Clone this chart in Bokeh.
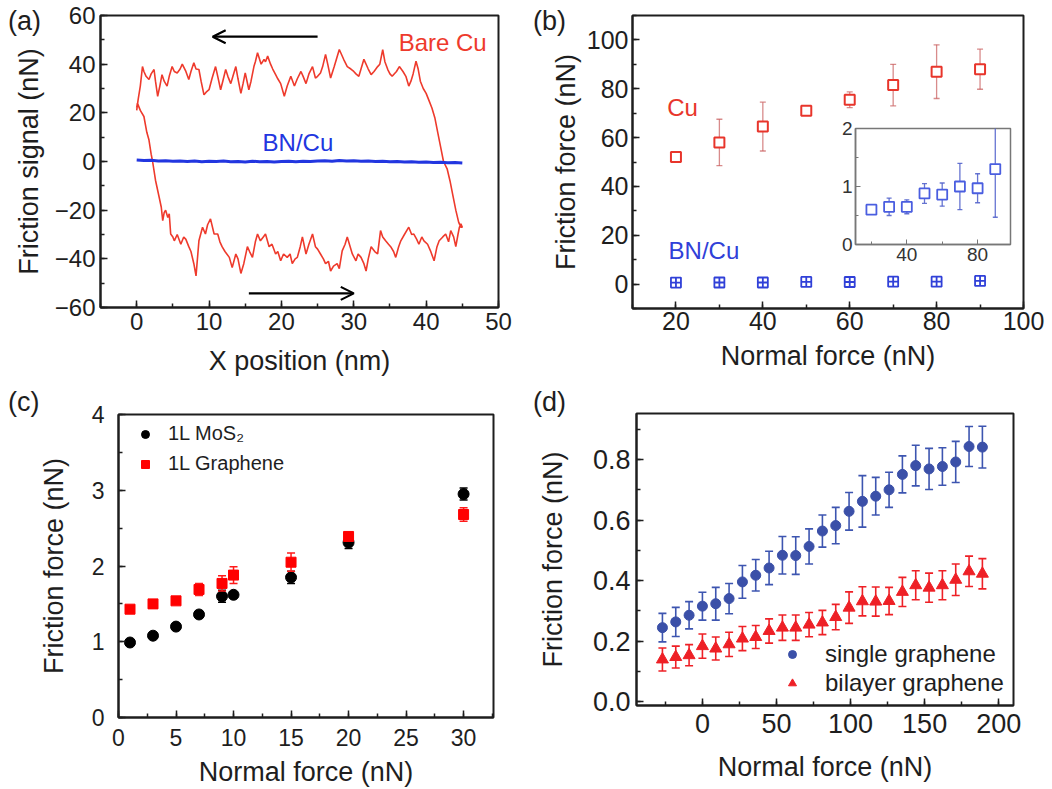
import numpy as np
from bokeh.plotting import figure
from bokeh.models import (Range1d, SingleIntervalTicker, Label, Arrow, OpenHead,
                          Legend, LegendItem, PrintfTickFormatter, Div)
from bokeh.embed import file_html
from bokeh.resources import INLINE

FONT = "Liberation Sans"

# ---------------- (a) friction loop ----------------
trace_pts = [  # forward scan (lower branch), x in nm, signal in nN
    (0.0, 22), (0.1, 24), (0.5, 21), (1.0, 18.5), (1.4, 12), (1.7, 8.8), (2.0, 3), (2.2, 0),
    (2.6, -7.7), (3.1, -14.6), (3.4, -18.8), (3.6, -24.3), (3.8, -21), (4.0, -20), (4.3, -23),
    (4.5, -21.5), (4.7, -29.8), (5.0, -31), (5.2, -32.6), (5.6, -30), (6.1, -34), (6.5, -31),
    (6.8, -32), (7.2, -35), (7.5, -37), (7.9, -42), (8.2, -47), (8.6, -32.6), (9.1, -27),
    (9.5, -29.8), (9.8, -26), (10.2, -23.6), (10.7, -29.8), (11.2, -29.8), (11.5, -33),
    (11.8, -35), (12.2, -37), (12.8, -39.4), (13.2, -43.6), (13.7, -38), (14.0, -40),
    (14.4, -46), (14.8, -42), (15.3, -35), (15.6, -37), (16.0, -39.4), (16.4, -33),
    (16.7, -29.8), (17.1, -32.6), (17.5, -31), (17.8, -29.8), (18.3, -35), (18.7, -34),
    (19.2, -38), (19.5, -37), (19.9, -40.8), (20.3, -38), (20.8, -39.4), (21.2, -38),
    (21.5, -42), (21.9, -40), (22.2, -39.4), (22.6, -35), (22.9, -31), (23.4, -38),
    (23.8, -34), (24.3, -29.8), (24.7, -35), (25.0, -36), (25.4, -38), (25.8, -40),
    (26.1, -42), (26.5, -41), (26.8, -45), (27.2, -43), (27.7, -42), (28.0, -44),
    (28.4, -36.7), (28.8, -34), (29.1, -31), (29.5, -35), (29.8, -38), (30.3, -40.8),
    (30.6, -38), (31.0, -39.4), (31.4, -42), (31.7, -45), (32.0, -40), (32.4, -35),
    (32.9, -37), (33.3, -38), (33.7, -28.4), (34.0, -31), (34.4, -32.6), (34.8, -34),
    (35.1, -35), (35.5, -37), (35.8, -39.4), (36.2, -35), (36.5, -32.6), (37.0, -30),
    (37.6, -27), (38.0, -30), (38.3, -29.8), (38.7, -32), (39.0, -34), (39.4, -31),
    (39.7, -32.6), (40.2, -34), (40.6, -36.7), (41.1, -40.8), (41.5, -35), (41.8, -32.6),
    (42.3, -31), (42.7, -29.8), (43.1, -33), (43.4, -28.4), (43.8, -31), (44.1, -35),
    (44.4, -30), (44.6, -27), (44.8, -25.6), (45.0, -27),
]
retrace_pts = [  # backward scan (upper branch)
    (44.8, -27), (44.5, -25), (44.1, -20), (43.7, -14), (43.3, -8), (42.9, -3), (42.4, 0),
    (42.0, 6), (41.6, 12), (41.2, 18), (40.8, 22), (40.4, 25), (40.0, 28), (39.6, 30),
    (39.2, 33), (38.9, 38), (38.6, 41.2), (38.2, 36), (37.9, 33), (37.6, 31), (37.2, 35),
    (36.8, 37), (36.3, 39), (35.9, 37), (35.3, 35), (35.0, 36), (34.7, 37.8), (34.3, 41),
    (34.0, 46), (33.6, 40), (33.3, 39), (32.8, 37), (32.4, 35.7), (32.0, 38), (31.4, 42),
    (31.0, 38), (30.7, 35), (30.3, 36), (30.0, 37), (29.6, 38), (29.1, 39), (28.6, 42),
    (28.2, 44.7), (28.0, 46), (27.6, 42), (27.3, 39), (26.8, 34.3), (26.4, 40), (26.1, 44),
    (25.7, 39), (25.4, 36.4), (25.0, 35), (24.7, 34.3), (24.3, 39), (23.8, 36), (23.4, 32),
    (23.0, 35), (22.7, 37), (22.2, 34), (21.8, 31), (21.3, 35), (20.8, 31), (20.4, 26.8),
    (19.9, 32), (19.5, 34), (19.2, 35.7), (18.8, 38), (18.5, 40), (18.1, 43.3), (17.8, 41),
    (17.6, 42), (17.2, 40), (16.7, 44.7), (16.4, 41), (16.2, 39), (15.8, 33), (15.5, 29.5),
    (15.0, 36.4), (14.7, 32), (14.4, 28), (14.0, 34), (13.7, 39), (13.3, 35), (13.0, 32),
    (12.6, 35), (12.3, 37.8), (11.9, 33), (11.6, 29.5), (11.2, 35), (10.9, 39), (10.4, 34),
    (10.0, 29.5), (9.6, 28.5), (9.3, 27.4), (8.9, 33), (8.6, 37.8), (8.2, 38), (7.9, 40.6),
    (7.5, 37), (7.2, 33.7), (6.8, 37), (6.3, 40), (6.0, 38), (5.6, 36.4), (5.2, 37),
    (4.9, 39), (4.5, 35), (4.2, 31), (3.8, 33), (3.5, 35.7), (3.2, 31), (2.9, 26.8),
    (2.6, 33), (2.4, 37.8), (2.0, 36), (1.7, 33.7), (1.3, 35), (1.0, 37), (0.8, 39),
    (0.5, 31), (0.2, 25.4), (0.0, 21),
]
bn_pts = [
    (0, 0.6), (1, 0.4), (2, 0.5), (3, 0.2), (4, 0.3), (5, 0.1), (6, 0.2), (7, 0.0), (8, 0.2),
    (9, -0.1), (10, 0.1), (11, 0.0), (12, 0.2), (13, -0.1), (14, 0.0), (15, -0.2), (16, 0.1),
    (17, -0.1), (18, 0.0), (19, -0.2), (20, 0.0), (21, 0.1), (22, -0.1), (23, 0.1), (24, 0.0),
    (25, 0.2), (26, 0.3), (27, 0.1), (28, 0.4), (29, 0.2), (30, 0.3), (31, 0.1), (32, 0.2),
    (33, 0.0), (34, 0.1), (35, -0.1), (36, 0.0), (37, -0.2), (38, -0.1), (39, -0.3),
    (40, -0.2), (41, -0.4), (42, -0.3), (43, -0.5), (44, -0.4), (45, -0.6),
]

# ---------------- (b) ----------------
b_force = [20, 30, 40, 50, 60, 70, 80, 90]
b_cu = [52, 58, 64.5, 71, 75.5, 81.5, 87, 88]
b_cu_err = [1.5, 9.5, 10, 1.5, 3.2, 8.5, 11, 8.2]
b_bn = [0.6, 0.65, 0.65, 0.88, 0.86, 1.0, 0.97, 1.3]
b_bn_err = [0.05, 0.15, 0.12, 0.17, 0.2, 0.4, 0.25, 0.83]

# ---------------- (c) ----------------
c_force = [1, 3, 5, 7, 9, 10, 15, 20, 30]
c_mos2 = [0.99, 1.08, 1.20, 1.36, 1.60, 1.62, 1.85, 2.31, 2.95]
c_mos2_err = [0.03, 0.03, 0.04, 0.05, 0.08, 0.04, 0.08, 0.08, 0.08]
c_gr = [1.43, 1.50, 1.54, 1.69, 1.77, 1.88, 2.05, 2.39, 2.68]
c_gr_err = [0.04, 0.03, 0.04, 0.08, 0.10, 0.11, 0.12, 0.05, 0.09]

# ---------------- (d) ----------------
d_force = [-27, -18, -9, 0, 9, 18, 27, 36, 45, 54, 63, 72, 81, 90, 99, 108, 117, 126,
           135, 144, 153, 162, 171, 180, 189]
d_single = [0.245, 0.264, 0.286, 0.316, 0.324, 0.341, 0.396, 0.418, 0.442, 0.484, 0.483,
            0.513, 0.564, 0.582, 0.629, 0.662, 0.679, 0.700, 0.751, 0.780, 0.769, 0.777,
            0.792, 0.843, 0.841]
d_single_err = [0.047, 0.048, 0.045, 0.046, 0.054, 0.050, 0.054, 0.052, 0.055, 0.062,
                0.062, 0.058, 0.053, 0.060, 0.062, 0.085, 0.062, 0.058, 0.061, 0.067,
                0.068, 0.062, 0.068, 0.066, 0.069]
d_bilayer = [0.140, 0.148, 0.154, 0.184, 0.176, 0.190, 0.209, 0.214, 0.234, 0.245, 0.245,
             0.255, 0.262, 0.280, 0.311, 0.332, 0.331, 0.333, 0.363, 0.385, 0.377, 0.385,
             0.403, 0.431, 0.423]
d_bilayer_err = [0.038, 0.036, 0.035, 0.040, 0.038, 0.040, 0.040, 0.038, 0.040, 0.042,
                 0.042, 0.040, 0.040, 0.042, 0.052, 0.048, 0.048, 0.045, 0.048, 0.048,
                 0.048, 0.048, 0.052, 0.050, 0.050]

INK = "#1e1e1e"


def make_fig(left, top, w, h, xr, yr, lft, rgt, tp, bot):
    p = figure(width=w, height=h, x_range=Range1d(*xr), y_range=Range1d(*yr),
               output_backend="svg", toolbar_location=None,
               min_border_left=lft, min_border_right=rgt,
               min_border_top=tp, min_border_bottom=bot,
               styles={"position": "absolute", "left": f"{left}px", "top": f"{top}px"})
    p.grid.visible = False
    p.outline_line_color = INK
    p.outline_line_width = 2
    p.outline_line_alpha = 1
    p.background_fill_color = "white"
    p.border_fill_color = "white"
    for ax in (p.xaxis[0], p.yaxis[0]):
        ax.axis_line_color = INK
        ax.axis_line_width = 2
        ax.major_tick_in = 7
        ax.major_tick_out = 0
        ax.minor_tick_in = 4
        ax.minor_tick_out = 0
        ax.major_tick_line_color = INK
        ax.minor_tick_line_color = INK
        ax.major_tick_line_width = 1.5
        ax.minor_tick_line_width = 1.5
        ax.major_label_text_font = FONT
        ax.major_label_text_color = INK
        ax.axis_label_text_font = FONT
        ax.axis_label_text_font_style = "normal"
        ax.axis_label_text_color = INK
        ax.axis_label_text_font_size = "27px"
    return p


def err_bars(p, x, y, e, color, width=1.5, cap=8, alpha=1.0):
    x = np.asarray(x, float)
    y = np.asarray(y, float)
    e = np.asarray(e, float)
    p.segment(x, y - e, x, y + e, line_color=color, line_width=width, line_alpha=alpha)
    p.scatter(np.concatenate([x, x]), np.concatenate([y - e, y + e]), marker="dash",
              size=cap, line_color=color, line_width=width, line_alpha=alpha)


def panel_letter(txt, left, top):
    return Div(text=f"<span style=\"font-family:'{FONT}';font-size:27px;line-height:27px;"
                    f"color:{INK}\">{txt}</span>",
               width=44, height=30,
               styles={"position": "absolute", "left": f"{left}px", "top": f"{top}px",
                       "font-family": FONT, "font-size": "27px", "line-height": "27px",
                       "color": INK, "margin": "0px", "padding": "0px"})


def note(p, x, y, txt, color):
    p.add_layout(Label(x=x, y=y, text=txt, text_font=FONT, text_font_size="24px",
                       text_color=color, text_baseline="middle"))


# ---------------- panel (a) ----------------
pa = make_fig(0, 0, 520, 390, (-5, 50), (-60, 60), 100, 22, 15, 83)
pa.xaxis.ticker = SingleIntervalTicker(interval=10, num_minor_ticks=2)
pa.yaxis.ticker = SingleIntervalTicker(interval=20, num_minor_ticks=2)
for ax in (pa.xaxis[0], pa.yaxis[0]):
    ax.major_label_text_font_size = "24px"
pa.xaxis.axis_label = "X position (nm)"
pa.yaxis.axis_label = "Friction signal (nN)"
pa.yaxis.major_label_standoff = 5
pa.xaxis.major_label_standoff = 5
pa.yaxis.axis_label_standoff = 8
pa.xaxis.axis_label_standoff = 13

loop = trace_pts + retrace_pts
pa.line([q[0] for q in loop], [q[1] for q in loop], line_color="#ee3a2c", line_width=1.6)
pa.line([q[0] for q in bn_pts], [q[1] for q in bn_pts], line_color="#2236e0", line_width=3)
pa.add_layout(Arrow(end=OpenHead(size=13, line_width=2.2, line_color="black"),
                    x_start=25, y_start=51.3, x_end=10.5, y_end=51.3,
                    line_width=2.2, line_color="black"))
pa.add_layout(Arrow(end=OpenHead(size=13, line_width=2.2, line_color="black"),
                    x_start=15.5, y_start=-54.2, x_end=30, y_end=-54.2,
                    line_width=2.2, line_color="black"))
note(pa, 36.2, 48.7, "Bare Cu", "#ee3a2c")
note(pa, 17.4, 7.7, "BN/Cu", "#2236e0")

# ---------------- panel (b) ----------------
pb = make_fig(520, 0, 532, 390, (10, 100), (-10, 110), 112, 29, 15, 82)
pb.xaxis.ticker = SingleIntervalTicker(interval=20, num_minor_ticks=2)
pb.yaxis.ticker = SingleIntervalTicker(interval=20, num_minor_ticks=2)
for ax in (pb.xaxis[0], pb.yaxis[0]):
    ax.major_label_text_font_size = "25px"
pb.xaxis.axis_label = "Normal force (nN)"
pb.yaxis.axis_label = "Friction force (nN)"
pb.yaxis.major_label_standoff = 4
pb.xaxis.major_label_standoff = 3
pb.yaxis.axis_label_standoff = 3
pb.xaxis.axis_label_standoff = 8

err_bars(pb, b_force, b_cu, b_cu_err, "#c85a5a", width=1.3, cap=6, alpha=0.7)
pb.scatter(b_force, b_cu, marker="square", size=10, line_color="#e8352b", line_width=2,
           fill_color="white")
pb.scatter(b_force, b_bn, marker="square_cross", size=10, line_color="#3040d8",
           line_width=1.8, fill_color="white")
note(pb, 18.0, 72.5, "Cu", "#e8352b")
note(pb, 18.3, 13.8, "BN/Cu", "#3040d8")

# inset of (b)
ins = figure(width=193, height=156, x_range=Range1d(11, 98.6), y_range=Range1d(0, 2),
             output_backend="svg", toolbar_location=None,
             min_border_left=30, min_border_right=8, min_border_top=12, min_border_bottom=28,
             styles={"position": "absolute", "left": "825px", "top": "116px"})
ins.grid.visible = False
ins.border_fill_alpha = 0
ins.background_fill_color = "white"
ins.outline_line_color = "#777777"
ins.outline_line_width = 1.5
ins.outline_line_alpha = 1
ins.xaxis.ticker = SingleIntervalTicker(interval=40, num_minor_ticks=2)
ins.yaxis.ticker = SingleIntervalTicker(interval=1, num_minor_ticks=2)
for ax in (ins.xaxis[0], ins.yaxis[0]):
    ax.axis_line_color = "#777777"
    ax.axis_line_width = 1.5
    ax.major_tick_in = 5
    ax.major_tick_out = 0
    ax.minor_tick_in = 3
    ax.minor_tick_out = 0
    ax.major_tick_line_color = "#777777"
    ax.minor_tick_line_color = "#777777"
    ax.major_label_text_font = FONT
    ax.major_label_text_font_size = "19px"
    ax.major_label_text_color = "#333333"
    ax.major_label_standoff = 3
err_bars(ins, b_force, b_bn, b_bn_err, "#5565cc", width=1.3, cap=5, alpha=0.9)
ins.scatter(b_force, b_bn, marker="square", size=10, line_color="#4a5ee0", line_width=1.8,
            fill_color="white")

# ---------------- panel (c) ----------------
pc = make_fig(0, 390, 520, 399, (0, 32.6), (0, 4), 118, 27, 24, 72)
pc.xaxis.ticker = SingleIntervalTicker(interval=5, num_minor_ticks=2)
pc.yaxis.ticker = SingleIntervalTicker(interval=1, num_minor_ticks=2)
for ax in (pc.xaxis[0], pc.yaxis[0]):
    ax.major_label_text_font_size = "23px"
pc.xaxis.axis_label = "Normal force (nN)"
pc.yaxis.axis_label = "Friction force (nN)"
pc.yaxis.major_label_standoff = 14
pc.xaxis.major_label_standoff = 11
pc.yaxis.axis_label_standoff = 20
pc.xaxis.axis_label_standoff = 8

err_bars(pc, c_force, c_mos2, c_mos2_err, "black", width=1.5, cap=8)
r_mos = pc.scatter(c_force, c_mos2, marker="circle", size=11, fill_color="black",
                   line_color="black")
err_bars(pc, c_force, c_gr, c_gr_err, "#ff1a1a", width=1.5, cap=8)
r_gr = pc.scatter(c_force, c_gr, marker="square", size=10, fill_color="#ff0000",
                  line_color="#ff0000")
leg_c = Legend(items=[LegendItem(label="1L MoS\u2082", renderers=[r_mos]),
                      LegendItem(label="1L Graphene", renderers=[r_gr])],
               location=(17, 242), orientation="vertical", border_line_alpha=0,
               background_fill_alpha=0, padding=0, margin=0, spacing=7,
               glyph_width=20, glyph_height=20, label_standoff=13,
               label_text_font=FONT, label_text_font_size="20px", label_text_color=INK)
pc.add_layout(leg_c)

# ---------------- panel (d) ----------------
pd_ = make_fig(520, 390, 532, 399, (-44.5, 210), (-0.012, 0.952), 116, 39, 23, 84)
pd_.xaxis.ticker = SingleIntervalTicker(interval=50, num_minor_ticks=2)
pd_.yaxis.ticker = SingleIntervalTicker(interval=0.2, num_minor_ticks=2)
pd_.yaxis.formatter = PrintfTickFormatter(format="%.1f")
for ax in (pd_.xaxis[0], pd_.yaxis[0]):
    ax.major_label_text_font_size = "27px"
pd_.xaxis.axis_label = "Normal force (nN)"
pd_.yaxis.axis_label = "Friction force (nN)"
pd_.yaxis.major_label_standoff = 6
pd_.xaxis.major_label_standoff = 8
pd_.yaxis.axis_label_standoff = 22
pd_.xaxis.axis_label_standoff = 16

err_bars(pd_, d_force, d_single, d_single_err, "#3d55b0", width=1.6, cap=8)
r_s = pd_.scatter(d_force, d_single, marker="circle", size=10, fill_color="#3b50a8",
                  line_color="#3b50a8")
err_bars(pd_, d_force, d_bilayer, d_bilayer_err, "#ee2026", width=1.6, cap=8)
r_b = pd_.scatter(d_force, d_bilayer, marker="triangle", size=12, fill_color="#ee2026",
                  line_color="#ee2026")
leg_d = Legend(items=[LegendItem(label="single graphene", renderers=[r_s]),
                      LegendItem(label="bilayer graphene", renderers=[r_b])],
               location=(146, 8), orientation="vertical", border_line_alpha=0,
               background_fill_alpha=0, padding=0, margin=0, spacing=1,
               glyph_width=20, glyph_height=20, label_standoff=23,
               label_text_font=FONT, label_text_font_size="24px", label_text_color=INK)
pd_.add_layout(leg_d)

letters = [panel_letter("(a)", 8, 8), panel_letter("(b)", 533, 8),
           panel_letter("(c)", 8, 389), panel_letter("(d)", 533, 389)]

open("out.html", "w").write(file_html([pa, pb, pc, pd_, ins] + letters, INLINE))
